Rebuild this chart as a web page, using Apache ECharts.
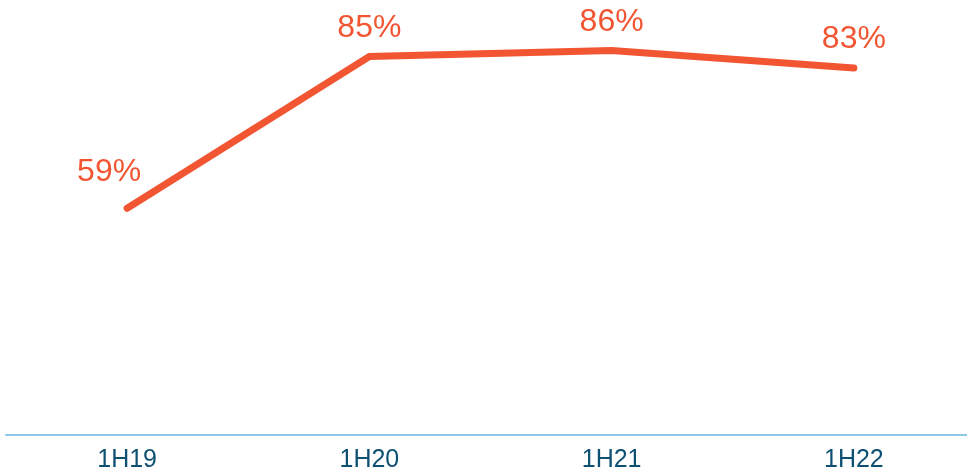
<!DOCTYPE html>
<html>
<head>
<meta charset="utf-8">
<script src="https://cdn.jsdelivr.net/npm/echarts@6/dist/echarts.min.js"></script>
<style>
html,body{margin:0;padding:0;background:#fff;}
#chart{width:967px;height:472px;}
</style>
</head>
<body>
<div id="chart"></div>
<script>
const categories = ['1H19', '1H20', '1H21', '1H22'];
const values = [59, 85, 86, 83];
const labelOffsets = [[-18, -8], [0, 0], [0, 0], [0, 0]];

const lineColor = '#F25532';
const data = values.map((v, i) => ({
  value: v,
  label: { offset: labelOffsets[i] }
}));

const chart = echarts.init(document.getElementById('chart'), null, { renderer: 'canvas' });
chart.setOption({
  animation: false,
  backgroundColor: '#ffffff',
  grid: { left: 6, width: 969, top: -2, bottom: 37, containLabel: false, outerBoundsMode: 'none' },
  xAxis: {
    type: 'category',
    data: categories,
    boundaryGap: true,
    axisLine: { show: true, lineStyle: { color: '#8DC8E8', width: 2 } },
    axisTick: { show: false },
    splitLine: { show: false },
    axisLabel: {
      color: '#0E5071',
      fontSize: 25,
      fontFamily: 'Liberation Sans, Arial, sans-serif',
      margin: 13
    }
  },
  yAxis: {
    type: 'value',
    min: 20.2,
    max: 95,
    show: false,
    splitLine: { show: false }
  },
  series: [{
    type: 'line',
    data: data,
    symbol: 'circle',
    symbolSize: 1,
    showSymbol: true,
    clip: false,
    lineStyle: { color: lineColor, width: 7, cap: 'round', join: 'miter' },
    itemStyle: { color: 'rgba(0,0,0,0)', borderWidth: 0 },
    label: {
      show: true,
      position: 'top',
      distance: 12,
      color: lineColor,
      fontSize: 32,
      fontFamily: 'Liberation Sans, Arial, sans-serif',
      formatter: p => p.value + '%'
    }
  }]
});
</script>
</body>
</html>
